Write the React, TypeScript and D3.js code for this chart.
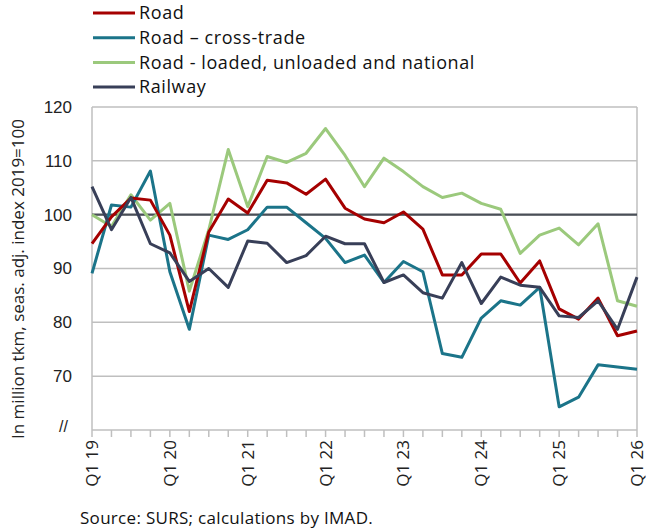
import React from 'react';
import * as d3 from 'd3';

const quarters = [
  'Q1 19', 'Q2 19', 'Q3 19', 'Q4 19',
  'Q1 20', 'Q2 20', 'Q3 20', 'Q4 20',
  'Q1 21', 'Q2 21', 'Q3 21', 'Q4 21',
  'Q1 22', 'Q2 22', 'Q3 22', 'Q4 22',
  'Q1 23', 'Q2 23', 'Q3 23', 'Q4 23',
  'Q1 24', 'Q2 24', 'Q3 24', 'Q4 24',
  'Q1 25', 'Q2 25', 'Q3 25', 'Q4 25',
  'Q1 26',
];

const road = [
  94.6, 99.6, 103.1, 102.7, 96.2, 82.0, 96.8, 102.9, 100.3, 106.4, 105.9, 103.8, 106.6, 101.2,
  99.2, 98.5, 100.5, 97.3, 88.8, 88.8, 92.7, 92.7, 87.3, 91.4, 82.5, 80.6, 84.5, 77.5, 78.4,
];
const crossTrade = [
  89.1, 101.8, 101.4, 108.1, 89.4, 78.7, 96.2, 95.4, 97.2, 101.4, 101.4, 98.5, 95.6, 91.1,
  92.5, 87.4, 91.3, 89.4, 74.2, 73.5, 80.8, 84.0, 83.2, 86.5, 64.3, 66.1, 72.1, 71.7, 71.3,
];
const loaded = [
  100.0, 97.8, 103.7, 99.0, 102.1, 85.8, 97.2, 112.1, 101.5, 110.8, 109.7, 111.4, 116.0, 111.0,
  105.2, 110.5, 108.0, 105.2, 103.2, 104.0, 102.1, 101.0, 92.8, 96.2, 97.5, 94.4, 98.3, 84.0, 83.0,
];
const railway = [
  105.2, 97.2, 103.2, 94.6, 92.9, 87.6, 90.0, 86.5, 95.1, 94.7, 91.1, 92.4, 96.0, 94.6,
  94.6, 87.4, 88.8, 85.5, 84.5, 91.1, 83.5, 88.4, 86.9, 86.5, 81.2, 80.9, 84.0, 78.7, 88.4,
];

const seriesNames = ['Road', 'Road \u2013 cross-trade', 'Road - loaded, unloaded and national', 'Railway'];
const yTicks = [70, 80, 90, 100, 110, 120];

const colors = ['#a50000', '#1b7489', '#9bc97c', '#383f58'];

const W = 650;
const H = 532;
const left = 92;
const right = 637;
const top = 107;
const bottom = 430;

export default function App() {
  const x = d3.scaleLinear([0, quarters.length - 1], [left, right]);
  const y = d3.scaleLinear([60, 120], [bottom, top]);
  const line = d3
    .line<number>()
    .x((_, i) => x(i))
    .y((d) => y(d));

  const allSeries = [road, crossTrade, loaded, railway];
  // draw order: green under, then teal, red, railway on top
  const order = [2, 1, 0, 3];
  const font = 'Liberation Sans, Arial, sans-serif';
  const textFont = 'Open Sans, Noto Sans, sans-serif';

  return (
    <svg
      width={W}
      height={H}
      style={{ position: 'absolute', left: 0, top: 0, background: '#fff' }}
    >
      {/* gridlines */}
      {yTicks.map((t) => (
        <line key={t} x1={left} x2={right} y1={y(t)} y2={y(t)} stroke="#bfbfbf" strokeWidth={1.5} />
      ))}
      <line x1={right} x2={right} y1={top} y2={bottom} stroke="#bfbfbf" strokeWidth={1.5} />
      <line x1={left} x2={left} y1={top} y2={bottom} stroke="#bfbfbf" strokeWidth={1.5} />
      <line x1={left} x2={right} y1={bottom} y2={bottom} stroke="#bfbfbf" strokeWidth={1.5} />
      {quarters.map((q, i) => (
        <line key={q} x1={x(i)} x2={x(i)} y1={bottom} y2={bottom + 7} stroke="#bfbfbf" strokeWidth={1.5} />
      ))}

      {/* 100 reference */}
      <line x1={left} x2={right} y1={y(100)} y2={y(100)} stroke="#4a4f57" strokeWidth={2.2} />

      {order.map((k) => (
        <path
          key={k}
          d={line(allSeries[k]) ?? ''}
          fill="none"
          stroke={colors[k]}
          strokeWidth={3}
          strokeLinejoin="round"
        />
      ))}

      {/* y tick labels */}
      {yTicks.map((t) => (
        <text key={t} x={72} y={y(t)} dy="0.35em" textAnchor="end" fontSize={17} fontFamily={font} fill="#222">
          {t}
        </text>
      ))}
      <text x={68} y={bottom} dy="0.1em" textAnchor="end" fontSize={16} fontFamily={font} fill="#222">
        //
      </text>

      {/* x tick labels */}
      {quarters.map((q, i) =>
        i % 4 === 0 ? (
          <text
            key={q}
            transform={`translate(${x(i)},${bottom + 10}) rotate(-90)`}
            dy="0.35em"
            textAnchor="end"
            fontSize={17}
            fontFamily={textFont}
            fill="#222"
          >
            {q}
          </text>
        ) : null,
      )}

      <text
        transform={`translate(18,279) rotate(-90)`}
        dy="0.35em"
        textAnchor="middle"
        fontSize={17}
        fontFamily={textFont}
        fill="#222"
      >
        In million tkm, seas. adj. index 2019=100
      </text>

      {/* legend */}
      {seriesNames.map((name, i) => (
        <g key={name} transform={`translate(93,${13 + i * 24.7})`}>
          <line x1={0} x2={42} y1={0} y2={0} stroke={colors[i]} strokeWidth={3} />
          <text x={46} y={0} dy="0.35em" fontSize={18} letterSpacing={0.6} fontFamily={textFont} fill="#111">
            {name}
          </text>
        </g>
      ))}

      <text x={80} y={518} dy="0.35em" fontSize={17} letterSpacing={0.3} fontFamily={textFont} fill="#111">
        Source: SURS; calculations by IMAD.
      </text>
    </svg>
  );
}
